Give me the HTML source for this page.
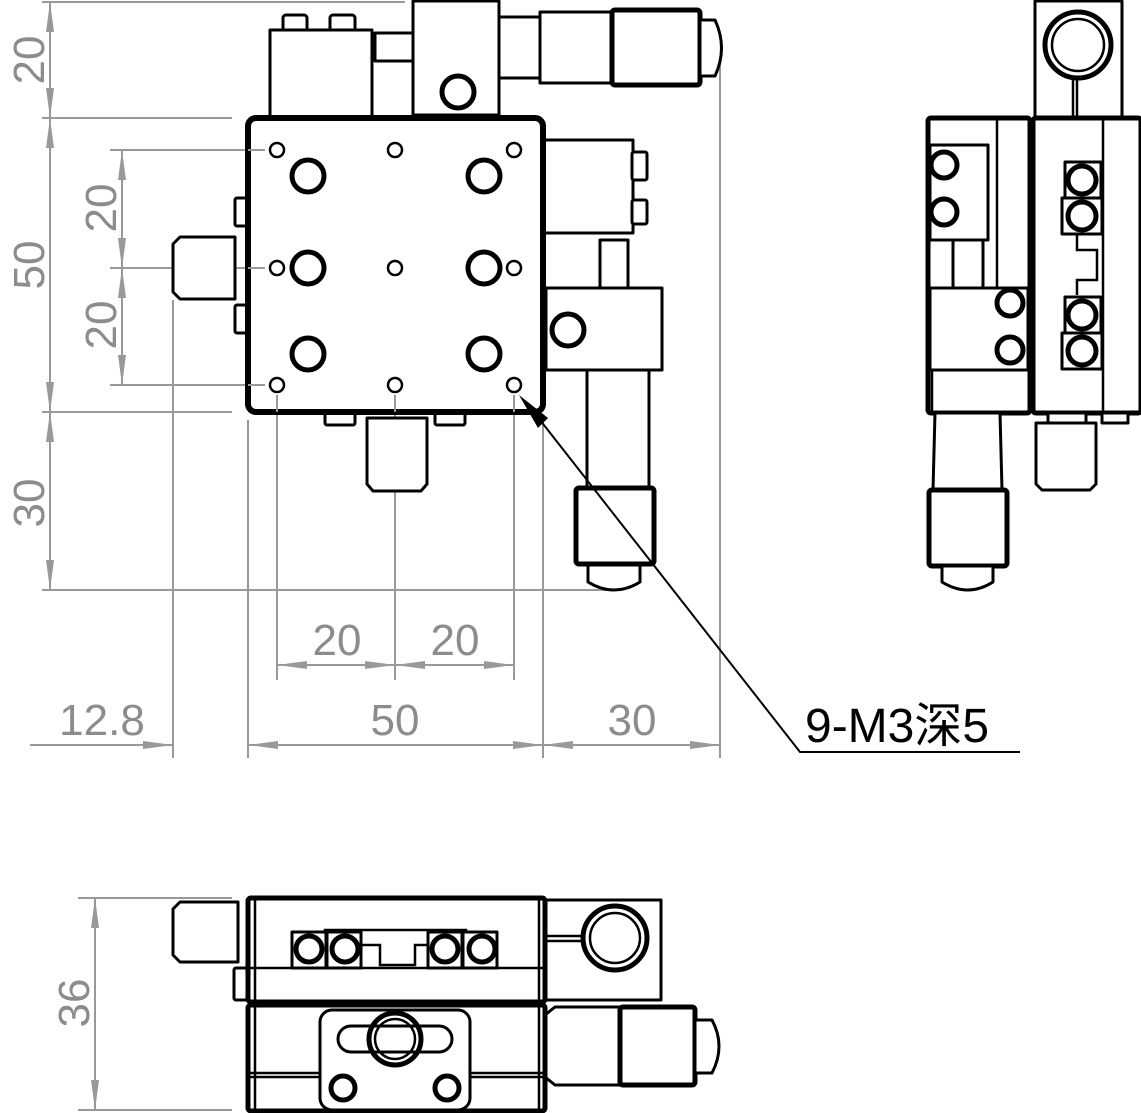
<!DOCTYPE html>
<html><head><meta charset="utf-8"><style>
html,body{margin:0;padding:0;background:#fff;width:1141px;height:1113px;overflow:hidden}
svg{display:block}
.d{stroke:#999;stroke-width:2;fill:none}
.t{font-family:"Liberation Sans","Noto Sans CJK SC",sans-serif;font-size:44px;fill:#8c8c8c}
.k{stroke:#000;stroke-width:3;fill:#fff;stroke-linejoin:round}
.k2{stroke:#000;stroke-width:5;fill:#fff;stroke-linejoin:round}
.h{stroke:#000;stroke-width:5;fill:none}
.s{stroke:#000;stroke-width:2.5;fill:none}
</style></head><body>
<svg width="1141" height="1113" viewBox="0 0 1141 1113" xmlns="http://www.w3.org/2000/svg">
<defs>
<marker id="a" markerWidth="30" markerHeight="10" refX="30" refY="5" orient="auto" markerUnits="userSpaceOnUse"><path d="M0,1 L30,5 L0,9 Z" fill="#999"/></marker>
</defs>
<g class="d">
<line x1="42" y1="2" x2="405" y2="2"/>
<line x1="42" y1="118" x2="232" y2="118"/>
<line x1="110" y1="150" x2="265" y2="150"/>
<line x1="110" y1="268" x2="265" y2="268"/>
<line x1="110" y1="385" x2="265" y2="385"/>
<line x1="42" y1="412" x2="232" y2="412"/>
<line x1="42" y1="590" x2="610" y2="590"/>
<line x1="173" y1="300" x2="173" y2="758"/>
<line x1="248" y1="420" x2="248" y2="758"/>
<line x1="277" y1="395" x2="277" y2="680"/>
<line x1="395" y1="395" x2="395" y2="680"/>
<line x1="514" y1="395" x2="514" y2="680"/>
<line x1="543" y1="420" x2="543" y2="758"/>
<line x1="720" y1="50" x2="720" y2="758"/>
<line x1="50" y1="60" x2="50" y2="2" marker-end="url(#a)"/>
<line x1="50" y1="60" x2="50" y2="118" marker-end="url(#a)"/>
<line x1="50" y1="265" x2="50" y2="118" marker-end="url(#a)"/>
<line x1="50" y1="265" x2="50" y2="412" marker-end="url(#a)"/>
<line x1="50" y1="500" x2="50" y2="412" marker-end="url(#a)"/>
<line x1="50" y1="500" x2="50" y2="590" marker-end="url(#a)"/>
<line x1="122" y1="210" x2="122" y2="150" marker-end="url(#a)"/>
<line x1="122" y1="210" x2="122" y2="268" marker-end="url(#a)"/>
<line x1="122" y1="325" x2="122" y2="268" marker-end="url(#a)"/>
<line x1="122" y1="325" x2="122" y2="385" marker-end="url(#a)"/>
<line x1="336" y1="665" x2="277" y2="665" marker-end="url(#a)"/>
<line x1="336" y1="665" x2="395" y2="665" marker-end="url(#a)"/>
<line x1="455" y1="665" x2="395" y2="665" marker-end="url(#a)"/>
<line x1="455" y1="665" x2="514" y2="665" marker-end="url(#a)"/>
<line x1="30" y1="745" x2="173" y2="745" marker-end="url(#a)"/>
<line x1="395" y1="745" x2="248" y2="745" marker-end="url(#a)"/>
<line x1="395" y1="745" x2="543" y2="745" marker-end="url(#a)"/>
<line x1="632" y1="745" x2="543" y2="745" marker-end="url(#a)"/>
<line x1="632" y1="745" x2="720" y2="745" marker-end="url(#a)"/>
<line x1="78" y1="898" x2="232" y2="898"/>
<line x1="78" y1="1110" x2="232" y2="1110"/>
<line x1="95" y1="1000" x2="95" y2="898" marker-end="url(#a)"/>
<line x1="95" y1="1000" x2="95" y2="1110" marker-end="url(#a)"/>
</g>
<g class="t" text-anchor="middle">
<text transform="translate(44,60) rotate(-90)">20</text>
<text transform="translate(44,265) rotate(-90)">50</text>
<text transform="translate(44,503) rotate(-90)">30</text>
<text transform="translate(116,208) rotate(-90)">20</text>
<text transform="translate(116,325) rotate(-90)">20</text>
<text transform="translate(89,1003) rotate(-90)">36</text>
<text x="337" y="655">20</text>
<text x="455" y="655">20</text>
<text x="102" y="735">12.8</text>
<text x="395" y="735">50</text>
<text x="632" y="735">30</text>
</g>

<!-- TOP VIEW -->
<g>
<rect class="k" x="283" y="15" width="24" height="18" rx="3"/>
<rect class="k" x="330" y="15" width="25" height="18" rx="3"/>
<rect class="k" x="270" y="30" width="102" height="90"/>
<rect class="k" x="375" y="33" width="40" height="28"/>
<rect class="k" x="498" y="17" width="44" height="61"/>
<rect class="k" x="540" y="12" width="74" height="71"/>
<rect class="k2" x="612" y="10" width="88" height="75" rx="3"/>
<path class="k" d="M700,20 L715,20 Q728,48 715,76 L700,76 Z"/>
<rect class="k" x="413" y="1" width="86" height="114"/>
<circle class="h" cx="458" cy="92" r="16"/>
<rect class="k" x="235" y="198" width="14" height="28" rx="2"/>
<rect class="k" x="235" y="305" width="14" height="28" rx="2"/>
<path class="k" d="M180,237 L235,237 L235,299 L180,299 L173,292 L173,244 Z"/>
<rect class="k" x="325" y="410" width="30" height="15" rx="2"/>
<rect class="k" x="435" y="410" width="30" height="15" rx="2"/>
<path class="k" d="M367,418 L427,418 L427,484 L421,491 L373,491 L367,484 Z"/>
<rect class="k" x="543" y="140" width="90" height="93"/>
<rect class="k" x="632" y="152" width="15" height="28" rx="2"/>
<rect class="k" x="632" y="200" width="15" height="24" rx="2"/>
<rect class="k" x="600" y="240" width="28" height="48"/>
<rect class="k" x="587" y="370" width="62" height="120"/>
<rect class="k2" x="576" y="488" width="78" height="76" rx="3"/>
<path class="k" d="M588,565 L640,565 L640,582 Q614,598 588,582 Z"/>
<rect class="k" x="546" y="288" width="116" height="82"/>
<circle class="h" cx="568" cy="330" r="16"/>
<rect x="248" y="118" width="295" height="294" rx="8" fill="#fff" stroke="#000" stroke-width="6"/>
<g class="s">
<circle cx="277" cy="150" r="7"/><circle cx="395" cy="150" r="7"/><circle cx="514" cy="150" r="7"/>
<circle cx="277" cy="268" r="7"/><circle cx="395" cy="268" r="7"/><circle cx="514" cy="268" r="7"/>
<circle cx="277" cy="385" r="7"/><circle cx="395" cy="385" r="7"/><circle cx="514" cy="385" r="7"/>
</g>
<g class="h">
<circle cx="308" cy="176" r="16"/><circle cx="484" cy="176" r="16"/>
<circle cx="308" cy="268" r="16"/><circle cx="484" cy="268" r="16"/>
<circle cx="308" cy="354" r="16"/><circle cx="484" cy="354" r="16"/>
</g>
</g>
<g class="d">
<line x1="277" y1="395" x2="277" y2="412"/><line x1="395" y1="395" x2="395" y2="412"/><line x1="514" y1="395" x2="514" y2="412"/>
<line x1="248" y1="150" x2="265" y2="150"/><line x1="248" y1="268" x2="265" y2="268"/><line x1="248" y1="385" x2="265" y2="385"/>
</g>
<path d="M519,395 L548,418 L538,428 Z" fill="#000"/>
<polyline points="540,420 800,752 1020,752" fill="none" stroke="#000" stroke-width="2"/>
<text x="805" y="742" style="font-family:'Liberation Sans','Noto Sans CJK SC',sans-serif;font-size:48px;fill:#000">9-M3深5</text>

<!-- SIDE VIEW -->
<g>
<rect class="k" x="1035" y="1" width="87" height="118"/>
<circle class="h" cx="1078" cy="45" r="33"/>
<circle class="s" cx="1078" cy="45" r="26"/>
<line class="s" x1="1073" y1="78" x2="1073" y2="118"/><line class="s" x1="1077" y1="78" x2="1077" y2="118"/>
<rect class="k2" x="928" y="118" width="102" height="295" rx="3"/>
<rect class="k2" x="1033" y="118" width="108" height="295" rx="3"/>
<line class="s" x1="997" y1="120" x2="997" y2="290"/>
<line class="s" x1="932" y1="412" x2="932" y2="370"/>
<rect class="k" x="930" y="145" width="58" height="95"/>
<circle class="h" cx="944" cy="165" r="13"/><circle class="h" cx="944" cy="212" r="13"/>
<rect class="k" x="953" y="240" width="30" height="48"/>
<rect class="k" x="930" y="288" width="98" height="82"/>
<circle class="h" cx="1010" cy="303" r="13"/><circle class="h" cx="1010" cy="350" r="13"/>
<line class="s" x1="1103" y1="120" x2="1103" y2="412"/>
<path class="s" d="M1077,235 L1077,250 L1097,250 L1097,280 L1077,280 L1077,295"/>
<g class="k"><rect x="1065" y="162" width="36" height="36"/><rect x="1062" y="198" width="40" height="36"/><rect x="1065" y="297" width="36" height="36"/><rect x="1062" y="333" width="40" height="36"/></g>
<g class="h"><circle cx="1082" cy="180" r="14"/><circle cx="1082" cy="216" r="14"/><circle cx="1082" cy="315" r="14"/><circle cx="1082" cy="351" r="14"/></g>
<rect class="k" x="1102" y="413" width="26" height="10"/>
<rect class="k" x="1048" y="413" width="38" height="10"/>
<path class="k" d="M1036,423 L1096,423 L1096,484 L1090,490 L1042,490 L1036,484 Z"/>
<path class="k" d="M935,413 L1000,413 L1002,490 L933,490 Z"/>
<rect class="k2" x="929" y="490" width="78" height="76" rx="3"/>
<path class="k" d="M942,566 L993,566 L993,582 Q968,598 942,582 Z"/>
</g>

<!-- BOTTOM VIEW -->
<g>
<path class="k" d="M180,902 L238,902 L238,962 L180,962 L173,955 L173,909 Z"/>
<rect class="k" x="234" y="968" width="14" height="32" rx="2"/>
<rect class="k" x="545" y="900" width="116" height="100"/>
<circle class="h" cx="615" cy="938" r="32"/>
<circle class="s" cx="615" cy="938" r="25"/>
<line class="s" x1="545" y1="936" x2="583" y2="936"/><line class="s" x1="545" y1="941" x2="583" y2="941"/>
<rect class="k2" x="248" y="898" width="297" height="104" rx="3"/>
<line class="s" x1="255" y1="900" x2="255" y2="1000"/><line class="s" x1="539" y1="900" x2="539" y2="1000"/>
<line class="s" x1="248" y1="968" x2="545" y2="968"/>
<path class="s" d="M325,968 L325,930 L466,930 L466,968"/>
<path class="s" d="M361,945 L380,945 L380,965 L415,965 L415,945 L430,945"/>
<g class="k"><rect x="292" y="932" width="34" height="36"/><rect x="327" y="932" width="34" height="36"/><rect x="428" y="932" width="34" height="36"/><rect x="463" y="932" width="34" height="36"/></g>
<g class="h"><circle cx="309" cy="949" r="13"/><circle cx="345" cy="949" r="13"/><circle cx="445" cy="949" r="13"/><circle cx="482" cy="949" r="13"/></g>
<path class="k" d="M545,1015 L555,1007 L620,1007 L620,1085 L555,1085 L545,1077 Z"/>
<rect class="k2" x="620" y="1007" width="75" height="78" rx="3"/>
<path class="k" d="M695,1020 L712,1020 Q726,1046 712,1073 L695,1073 Z"/>
<rect class="k2" x="248" y="1005" width="297" height="106" rx="3"/>
<line class="s" x1="255" y1="1007" x2="255" y2="1109"/><line class="s" x1="539" y1="1007" x2="539" y2="1109"/>
<line class="s" x1="248" y1="1073" x2="545" y2="1073"/><line class="s" x1="248" y1="1077" x2="545" y2="1077"/>
<rect class="k" x="320" y="1010" width="150" height="100" rx="12"/>
<rect class="k" x="338" y="1026" width="114" height="26" rx="13"/>
<circle class="h" cx="395" cy="1039" r="26"/>
<circle class="s" cx="395" cy="1039" r="20"/>
<circle class="h" cx="343" cy="1088" r="12"/><circle class="h" cx="447" cy="1088" r="12"/>
</g>
</svg>
</body></html>
